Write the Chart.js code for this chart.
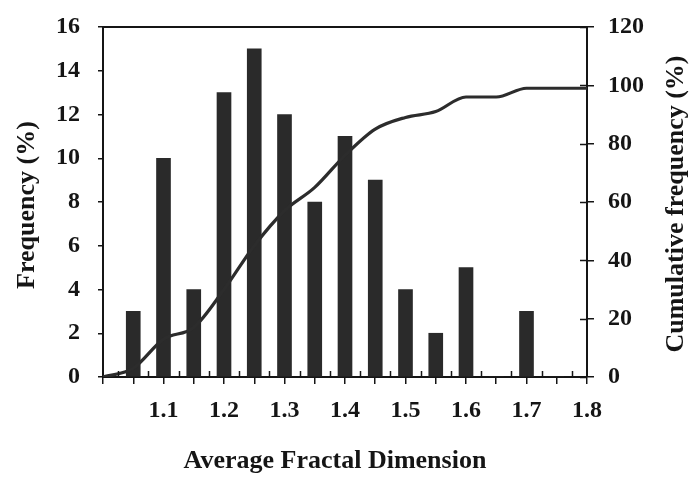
<!DOCTYPE html>
<html>
<head>
<meta charset="utf-8">
<script src="https://cdn.jsdelivr.net/npm/chart.js@4/dist/chart.umd.min.js"></script>
<style>
  html, body { margin: 0; padding: 0; background: #fff; }
  canvas { display: block; }
</style>
</head>
<body>
<canvas id="chart" width="691" height="477"></canvas>
<script>
// Histogram bins (centre of each fractal-dimension class) and their frequency (%)
const binCenters = [1.05, 1.10, 1.15, 1.20, 1.25, 1.30, 1.35, 1.40, 1.45, 1.50, 1.55, 1.60, 1.65, 1.70, 1.75];
const frequency  = [3, 10, 4, 13, 15, 12, 8, 11, 9, 4, 2, 5, 0, 3, 0];

// Cumulative frequency curve (%)
const cumPositions = [1.00, 1.05, 1.10, 1.15, 1.20, 1.25, 1.30, 1.35, 1.40, 1.45, 1.50, 1.55, 1.60, 1.65, 1.70, 1.75, 1.80];
const cumulative   = [0, 3, 13, 17, 30, 45, 57, 65, 76, 85, 89, 91, 96, 96, 99, 99, 99];

// Axis ranges and labels
const dimLabels  = ['1.1', '1.2', '1.3', '1.4', '1.5', '1.6', '1.7', '1.8'];
const freqRange  = [0, 16, 2];
const cumRange   = [0, 120, 20];

const xTitle  = 'Average Fractal Dimension';
const yTitle  = 'Frequency (%)';
const y2Title = 'Cumulative frequency (%)';

const SERIF = "'Liberation Serif', 'Times New Roman', serif";
const INK = '#151515';

// Frame top line, inner tick marks and rotated axis titles
const decorations = {
  id: 'decorations',
  afterDraw(chart) {
    const { ctx, chartArea: a, scales } = chart;
    ctx.save();
    ctx.strokeStyle = INK;

    // top edge of the frame
    ctx.lineWidth = 2;
    ctx.beginPath();
    ctx.moveTo(a.left - 1, a.top);
    ctx.lineTo(a.right + 1, a.top);
    ctx.stroke();

    // small upward ticks on the x axis, halfway between the class centres
    ctx.lineWidth = 1.5;
    ctx.beginPath();
    for (let v = 1.025; v < 1.8; v += 0.05) {
      const px = Math.round(scales.x.getPixelForValue(v)) + 0.5;
      ctx.moveTo(px, a.bottom);
      ctx.lineTo(px, a.bottom - 6);
    }
    ctx.stroke();

    // right-axis ticks also reach inside the frame
    ctx.beginPath();
    scales.y2.ticks.forEach(t => {
      const py = Math.round(scales.y2.getPixelForValue(t.value)) + 0.5;
      ctx.moveTo(a.right, py);
      ctx.lineTo(a.right - 7, py);
    });
    ctx.stroke();

    // axis titles
    ctx.fillStyle = INK;
    ctx.textAlign = 'center';
    ctx.textBaseline = 'middle';
    ctx.font = `bold 26px ${SERIF}`;

    ctx.fillText(xTitle, 335, 461);

    ctx.save();
    ctx.translate(27, 205);
    ctx.rotate(-Math.PI / 2);
    ctx.fillText(yTitle, 0, 0);
    ctx.restore();

    ctx.save();
    ctx.translate(676, 204);
    ctx.rotate(-Math.PI / 2);
    ctx.fillText(y2Title, 0, 0);
    ctx.restore();

    ctx.restore();
  }
};

const tickFont = { family: SERIF, size: 24, weight: 'bold' };

// fixed axis box sizes so the plot frame sits where it should
function fixWidth(w) {
  return s => { s.width = w; s.paddingTop = 0; s.paddingBottom = 0; };
}

new Chart(document.getElementById('chart'), {
  type: 'bar',
  data: {
    datasets: [
      {
        type: 'line',
        label: 'Cumulative frequency',
        data: cumPositions.map((x, i) => ({ x, y: cumulative[i] })),
        yAxisID: 'y2',
        borderColor: '#2c2c2c',
        borderWidth: 3.2,
        pointRadius: 0,
        tension: 0.3,
        cubicInterpolationMode: 'monotone',
        order: 0
      },
      {
        type: 'bar',
        label: 'Frequency',
        data: binCenters.map((x, i) => ({ x, y: frequency[i] })),
        yAxisID: 'y',
        backgroundColor: '#2a2a2a',
        borderWidth: 0,
        barThickness: 14,
        order: 1
      }
    ]
  },
  options: {
    responsive: false,
    animation: false,
    layout: { padding: { top: 27, left: 0, right: 0, bottom: 0 } },
    plugins: { legend: { display: false }, tooltip: { enabled: false } },
    scales: {
      x: {
        type: 'linear',
        position: 'bottom',
        offset: false,
        min: 1.0,
        max: 1.8,
        afterFit(s) { s.height = 100; s.paddingLeft = 0; s.paddingRight = 0; },
        afterBuildTicks(s) {
          const t = [];
          for (let k = 0; k <= 16; k++) t.push({ value: 1 + k * 0.05 });
          s.ticks = t;
        },
        ticks: {
          autoSkip: false,
          maxRotation: 0,
          font: tickFont,
          color: INK,
          padding: 12,
          callback(v) {
            const k = Math.round(v * 100);
            if (k % 10 !== 0 || k === 100) return '';
            return dimLabels[k / 10 - 11];
          }
        },
        grid: { offset: false, drawOnChartArea: false, drawTicks: true, tickLength: 7, color: INK, lineWidth: 1.5 },
        border: { display: true, color: INK, width: 2 }
      },
      y: {
        position: 'left',
        min: freqRange[0],
        max: freqRange[1],
        afterFit: fixWidth(103),
        ticks: { stepSize: freqRange[2], font: tickFont, color: INK, padding: 18 },
        grid: { drawOnChartArea: false, drawTicks: true, tickLength: 5, color: INK, lineWidth: 1.5 },
        border: { display: true, color: INK, width: 2 }
      },
      y2: {
        position: 'right',
        min: cumRange[0],
        max: cumRange[1],
        afterFit: fixWidth(104),
        ticks: { stepSize: cumRange[2], font: tickFont, color: INK, padding: 14 },
        grid: { drawOnChartArea: false, drawTicks: true, tickLength: 7, color: INK, lineWidth: 1.5 },
        border: { display: true, color: INK, width: 2 }
      }
    }
  },
  plugins: [decorations]
});
</script>
</body>
</html>
